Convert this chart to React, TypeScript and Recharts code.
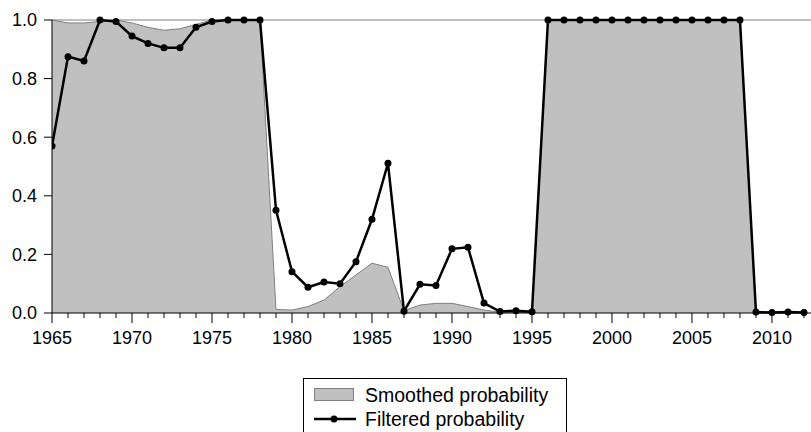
import { Area, ComposedChart, Line, ReferenceLine, XAxis, YAxis } from "recharts";

const years = [
  1965, 1966, 1967, 1968, 1969, 1970, 1971, 1972, 1973, 1974, 1975, 1976,
  1977, 1978, 1979, 1980, 1981, 1982, 1983, 1984, 1985, 1986, 1987, 1988,
  1989, 1990, 1991, 1992, 1993, 1994, 1995, 1996, 1997, 1998, 1999, 2000,
  2001, 2002, 2003, 2004, 2005, 2006, 2007, 2008, 2009, 2010, 2011, 2012
];

const smoothed = [
  1.0, 0.99, 0.99, 0.995, 1.0, 0.99, 0.975, 0.965, 0.97, 0.985, 1.0, 1.0,
  1.0, 1.0, 0.012, 0.01, 0.022, 0.044, 0.09, 0.13, 0.17, 0.156, 0.008, 0.027,
  0.033, 0.033, 0.022, 0.01, 0.003, 0.002, 0.002, 1.0, 1.0, 1.0, 1.0, 1.0,
  1.0, 1.0, 1.0, 1.0, 1.0, 1.0, 1.0, 1.0, 0.0, 0.0, 0.0, 0.0
];

const filtered = [
  0.57, 0.875, 0.86, 1.0, 0.995, 0.945, 0.92, 0.905, 0.905, 0.975, 0.995, 1.0,
  1.0, 1.0, 0.351, 0.141, 0.088, 0.106, 0.1, 0.175, 0.32, 0.511, 0.006, 0.098,
  0.094, 0.219, 0.224, 0.034, 0.005, 0.008, 0.004, 1.0, 1.0, 1.0, 1.0, 1.0,
  1.0, 1.0, 1.0, 1.0, 1.0, 1.0, 1.0, 1.0, 0.003, 0.002, 0.003, 0.002
];

const yTicks = [0, 0.2, 0.4, 0.6, 0.8, 1.0];

const data = years.map((year, i) => ({
  year,
  smoothed: smoothed[i],
  filtered: filtered[i]
}));

const font = "'Liberation Sans', Arial, sans-serif";

function YearTick(props: any) {
  const { x, y, payload } = props;
  const major = payload.value % 5 === 0;
  return (
    <g>
      <line x1={x} y1={y} x2={x} y2={y + (major ? 10 : 5)} stroke="#000" strokeWidth={1} />
      {major && (
        <text x={x} y={y + 18} dy="0.71em" textAnchor="middle" fontSize={18} fontFamily={font} fill="#000">
          {payload.value}
        </text>
      )}
    </g>
  );
}

export default function App() {
  return (
    <div style={{ position: "absolute", left: 0, top: 0, width: 811, height: 432, background: "#fff", overflow: "hidden" }}>
      <ComposedChart width={811} height={432} data={data} margin={{ top: 20, right: 0, left: 0, bottom: 0 }}>
        <XAxis
          dataKey="year"
          type="number"
          domain={[1965, 2012.44]}
          ticks={years}
          interval={0}
          allowDataOverflow
          height={119}
          tickSize={0}
          tickMargin={0}
          tickLine={false}
          axisLine={{ stroke: "#000" }}
          tick={<YearTick />}
        />
        <YAxis
          domain={[0, 1]}
          ticks={yTicks}
          width={52}
          tickSize={8}
          tickMargin={7}
          tickFormatter={(v: number) => v.toFixed(1)}
          tick={{ fontSize: 18, fontFamily: font, fill: "#000" }}
          tickLine={{ stroke: "#000" }}
          axisLine={{ stroke: "#000" }}
        />
        <Area
          dataKey="smoothed"
          type="linear"
          stroke="#808080"
          strokeWidth={1}
          fill="#c0c0c0"
          fillOpacity={1}
          isAnimationActive={false}
        />
        <ReferenceLine y={1} stroke="#808080" strokeWidth={1} />
        <Line
          dataKey="filtered"
          type="linear"
          stroke="#000"
          strokeWidth={2.5}
          dot={{ r: 3.5, fill: "#000", stroke: "#000", strokeWidth: 0 }}
          isAnimationActive={false}
        />
      </ComposedChart>
      <div
        style={{
          position: "absolute",
          left: 303,
          top: 378,
          width: 264,
          height: 70,
          border: "1px solid #000",
          boxSizing: "border-box",
          fontFamily: font,
          fontSize: 19.5,
          color: "#000"
        }}
      >
        <div style={{ position: "absolute", left: 10, top: 9, width: 40, height: 13, background: "#c0c0c0", border: "1px solid #808080", boxSizing: "border-box" }} />
        <div style={{ position: "absolute", left: 61, top: 5, lineHeight: "22px", whiteSpace: "nowrap" }}>Smoothed probability</div>
        <svg style={{ position: "absolute", left: 9, top: 34 }} width={44} height={12}>
          <line x1={1} y1={6} x2={43} y2={6} stroke="#000" strokeWidth={2.5} />
          <circle cx={21} cy={6} r={3.5} fill="#000" />
        </svg>
        <div style={{ position: "absolute", left: 61, top: 29, lineHeight: "22px", whiteSpace: "nowrap" }}>Filtered probability</div>
      </div>
    </div>
  );
}
